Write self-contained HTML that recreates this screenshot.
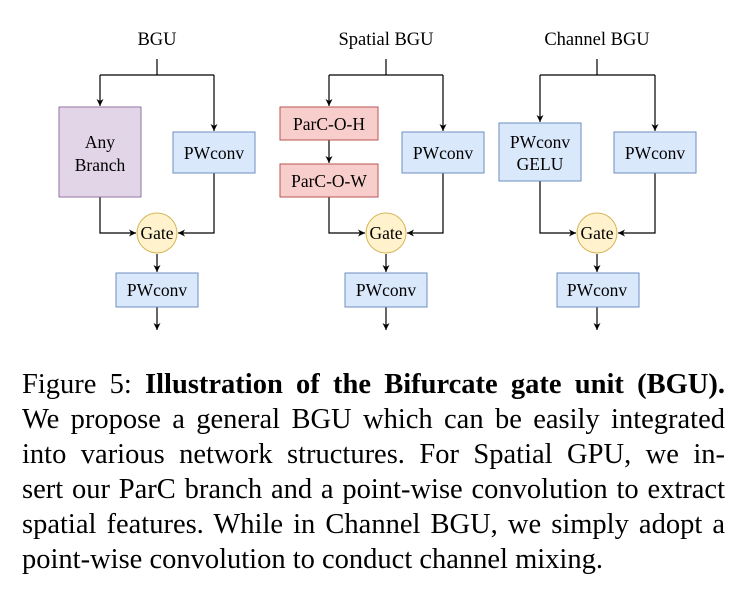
<!DOCTYPE html>
<html><head><style>
body{margin:0;width:745px;height:592px;background:#fff;overflow:hidden;position:relative;font-family:"Liberation Serif",serif;}
.cap{position:absolute;left:22px;width:703px;font-size:28.5px;line-height:35px;top:367px;color:#000;}
.cap div{text-align:justify;text-align-last:justify;white-space:nowrap;}
.cap div.last{text-align-last:left;}
</style></head><body>
<svg width="745" height="350" style="position:absolute;left:0;top:0" font-family="Liberation Serif, serif" font-size="17.5">
<defs><marker id="a" markerWidth="8" markerHeight="8" refX="7" refY="4" orient="auto" markerUnits="userSpaceOnUse"><path d="M0,0.5 L7,4 L0,7.5 L2,4z" fill="#000"/></marker></defs>
<g stroke="#000" stroke-width="1.2" fill="none">
<path d="M157,59V75M100,75H214M100,75V106" marker-end="url(#a)"/>
<path d="M214,75V131" marker-end="url(#a)"/>
<path d="M100,197V233H136" marker-end="url(#a)"/>
<path d="M214,173V233H178" marker-end="url(#a)"/>
<path d="M157,254V272" marker-end="url(#a)"/>
<path d="M157,307V330" marker-end="url(#a)"/>
<path d="M386,59V75M329,75H443M329,75V106" marker-end="url(#a)"/>
<path d="M443,75V131" marker-end="url(#a)"/>
<path d="M329,140V163" marker-end="url(#a)"/>
<path d="M329,197V233H365" marker-end="url(#a)"/>
<path d="M443,173V233H407" marker-end="url(#a)"/>
<path d="M386,254V272" marker-end="url(#a)"/>
<path d="M386,307V330" marker-end="url(#a)"/>
<path d="M597,59V75M540,75H655M540,75V122" marker-end="url(#a)"/>
<path d="M655,75V131" marker-end="url(#a)"/>
<path d="M540,181V233H576" marker-end="url(#a)"/>
<path d="M655,173V233H618" marker-end="url(#a)"/>
<path d="M597,254V272" marker-end="url(#a)"/>
<path d="M597,307V330" marker-end="url(#a)"/>
</g>
<g stroke-width="1">
<rect x="59" y="107" width="82" height="90" fill="#e1d5e7" stroke="#9673a6"/>
<rect x="173" y="132" width="82" height="41" fill="#dae8fc" stroke="#6c8ebf"/>
<rect x="116" y="273" width="82" height="34" fill="#dae8fc" stroke="#6c8ebf"/>
<circle cx="157" cy="233" r="20" fill="#fff2cc" stroke="#d6b656"/>
<rect x="280" y="107" width="98" height="33" fill="#f8cecc" stroke="#b85450"/>
<rect x="280" y="164" width="98" height="33" fill="#f8cecc" stroke="#b85450"/>
<rect x="402" y="132" width="82" height="41" fill="#dae8fc" stroke="#6c8ebf"/>
<rect x="345" y="273" width="82" height="34" fill="#dae8fc" stroke="#6c8ebf"/>
<circle cx="386" cy="233" r="20" fill="#fff2cc" stroke="#d6b656"/>
<rect x="499" y="123" width="82" height="58" fill="#dae8fc" stroke="#6c8ebf"/>
<rect x="614" y="132" width="82" height="41" fill="#dae8fc" stroke="#6c8ebf"/>
<rect x="557" y="273" width="82" height="34" fill="#dae8fc" stroke="#6c8ebf"/>
<circle cx="597" cy="233" r="20" fill="#fff2cc" stroke="#d6b656"/>
</g>
<g text-anchor="middle" fill="#000">
<text x="157" y="45" font-size="18.5">BGU</text>
<text x="386" y="45" font-size="18.5">Spatial BGU</text>
<text x="597" y="45" font-size="18.5">Channel BGU</text>
<text x="100" y="148">Any</text><text x="100" y="171">Branch</text>
<text x="214" y="159">PWconv</text>
<text x="157" y="239">Gate</text>
<text x="157" y="296">PWconv</text>
<text x="329" y="130">ParC-O-H</text>
<text x="329" y="187">ParC-O-W</text>
<text x="443" y="159">PWconv</text>
<text x="386" y="239">Gate</text>
<text x="386" y="296">PWconv</text>
<text x="540" y="148">PWconv</text><text x="540" y="170">GELU</text>
<text x="655" y="159">PWconv</text>
<text x="597" y="239">Gate</text>
<text x="597" y="296">PWconv</text>
</g>
</svg>
<div class="cap">
<div>Figure 5: <b>Illustration of the Bifurcate gate unit (BGU).</b></div>
<div>We propose a general BGU which can be easily integrated</div>
<div>into various network structures. For Spatial GPU, we in-</div>
<div>sert our ParC branch and a point-wise convolution to extract</div>
<div>spatial features. While in Channel BGU, we simply adopt a</div>
<div class="last">point-wise convolution to conduct channel mixing.</div>
</div>
</body></html>
